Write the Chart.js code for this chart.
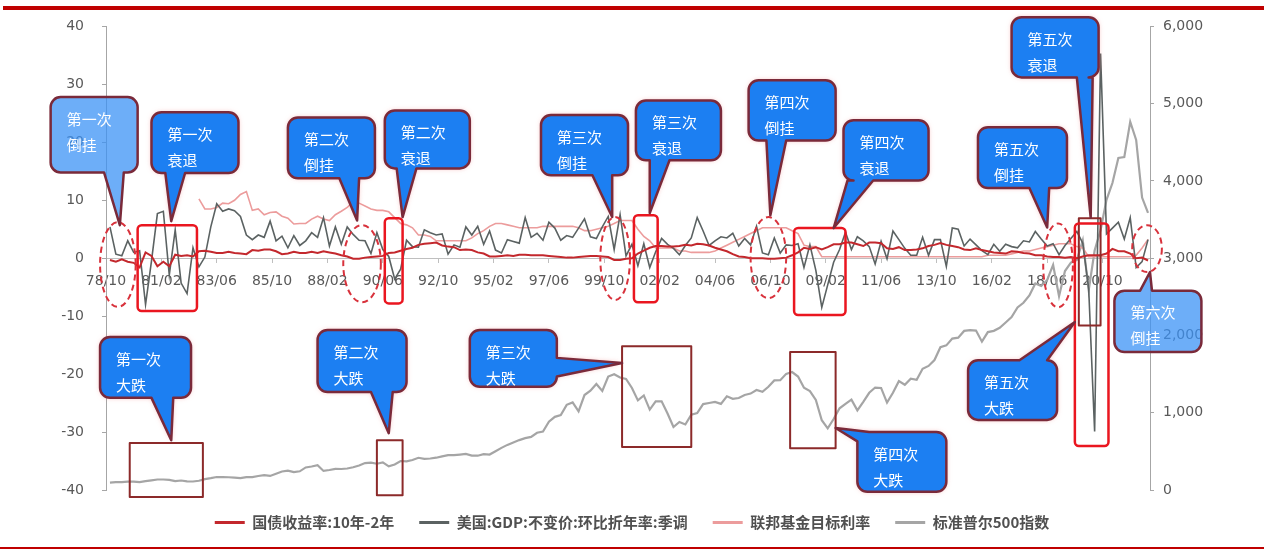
<!DOCTYPE html>
<html>
<head>
<meta charset="utf-8">
<script src="https://cdn.jsdelivr.net/npm/chart.js@4.4.1/dist/chart.umd.min.js"></script>
<style>
  html, body { margin: 0; padding: 0; background: #fff; }
  #wrap { position: relative; width: 1264px; height: 550px; overflow: hidden; background: #fff; }
  #wrap canvas { position: absolute; left: 0; top: 0; }
  .rule { position: absolute; background: #c00000; }
  #topRule { left: 3px; right: 0; top: 6px; height: 4px; }
  #bottomRule { left: 0; right: 0; top: 547px; height: 2px; }
</style>
</head>
<body>
<div id="wrap">
  <canvas id="chart" width="1264" height="550"></canvas>
  <div class="rule" id="topRule"></div>
  <div class="rule" id="bottomRule"></div>
</div>
<script>
// Time axis: month index 0 = 1978/10, one tick label every 28 months
const xTickLabels = ['78/10', '81/02', '83/06', '85/10', '88/02', '90/06', '92/10', '95/02', '97/06', '99/10',
  '02/02', '04/06', '06/10', '09/02', '11/06', '13/10', '16/02', '18/06', '20/10'];

// Quarterly series, 1978Q4 .. 2022Q3 (one row per year)
const termSpread = [ // 10Y - 2Y Treasury, %
  -0.3,
  -0.6, -0.2, -0.6, -0.8,   -1.6, 1.0, 0.4, -1.4,   -0.6, -1.4, 0.6, 0.4,   0.5, 0.3, 1.2, 1.3,
  1.1, 0.9, 0.9, 1.1,   0.9, 0.8, 0.7, 1.4,   1.3, 1.5, 1.5, 1.2,   0.7, 0.8, 1.1, 0.9,
  0.9, 1.1, 0.9, 1.2,   1.0, 0.8, 0.5, 0.3,   -0.1, -0.1, 0.1, 0.2,   0.3, 0.4, 0.9, 1.0,
  1.3, 1.6, 1.8, 2.3,   2.5, 2.6, 2.7, 2.2,   2.0, 1.9, 1.4, 1.5,   1.4, 1.0, 0.8, 0.3,
  0.3, 0.4, 0.5, 0.4,   0.6, 0.6, 0.5, 0.5,   0.5, 0.4, 0.3, 0.2,   0.1, 0.1, 0.2, 0.3,
  0.4, 0.4, 0.3, 0.2,   -0.3, -0.3, -0.1, 0.0,   0.8, 1.3, 1.8, 2.1,   2.1, 2.0, 2.0, 2.1,
  2.3, 2.2, 2.5, 2.4,   2.2, 1.8, 1.5, 1.2,   0.7, 0.3, 0.2, 0.0,   0.0, 0.0, -0.1, -0.1,
  0.0, 0.1, 0.5, 1.0,   1.8, 1.6, 1.9, 1.5,   1.9, 2.4, 2.4, 2.7,   2.7, 2.4, 2.1, 2.7,
  2.7, 2.6, 1.7, 1.6,   1.9, 1.4, 1.4, 1.5,   1.7, 2.1, 2.3, 2.6,   2.3, 2.1, 1.9, 1.5,
  1.4, 1.7, 1.4, 1.2,   1.0, 0.9, 0.8, 1.2,   1.1, 0.9, 0.8, 0.5,   0.5, 0.3, 0.2, 0.2,
  0.1, 0.2, 0.0, 0.3,   0.5, 0.5, 0.5, 0.8,   1.6, 1.2, 1.2, 0.8,
  0.0, 0.1, -0.4
];

const gdpGrowth = [ // real GDP, q/q annualised, SA, %
  5.4,
  0.7, 0.4, 3.0, 1.0,   1.3, -8.0, -0.5, 7.7,   8.1, -2.9, 4.9, -4.3,   -6.1, 1.8, -1.5, 0.2,
  5.4, 9.4, 8.1, 8.5,   8.2, 7.2, 4.0, 3.2,   4.0, 3.6, 6.4, 3.0,   3.8, 1.8, 3.9, 2.2,
  3.0, 4.4, 3.6, 7.0,   2.1, 5.4, 2.4, 5.4,   4.1, 3.1, 3.0, 0.8,   4.4, 1.5, 0.3, -3.6,
  -1.9, 3.1, 2.0, 1.9,   4.9, 4.4, 4.0, 4.2,   0.7, 2.3, 1.9, 5.4,   4.0, 5.5, 2.4, 4.7,
  1.4, 0.9, 3.2, 2.9,   2.6, 7.0, 3.6, 4.3,   3.1, 6.2, 5.2, 3.1,   3.9, 3.6, 5.2, 6.8,
  3.7, 3.4, 5.4, 7.2,   1.5, 7.5, 0.4, 2.4,   -1.3, 2.5, -1.6, 1.1,   3.4, 2.4, 1.7, 0.6,
  2.2, 3.5, 7.0, 4.7,   2.2, 3.0, 3.7, 3.5,   4.3, 2.1, 3.4, 2.3,   5.5, 0.9, 0.6, 3.5,
  0.9, 2.3, 2.2, 2.5,   -1.6, 2.3, -2.1, -8.5,   -4.6, -0.7, 1.5, 4.5,   1.5, 3.7, 3.0, 2.0,
  -1.0, 2.9, -0.1, 4.7,   3.2, 1.7, 0.5, 0.5,   3.6, 0.5, 3.2, 3.2,   -1.4, 5.2, 5.0, 2.1,
  3.3, 2.3, 1.3, 0.6,   2.4, 1.2, 2.4, 2.0,   1.8, 3.0, 2.8, 4.6,   3.3, 2.1, 2.5, 0.6,
  2.2, 3.4, 4.6, 2.6,   -5.3, -29.9, 35.3, 4.2,   5.2, 6.2, 3.3, 7.0,
  -1.6, -0.6, 3.2
];

const fedTarget = [ // federal funds target rate (upper bound), %, 1982Q3 .. 2022Q3
  10.25, 8.5,
  8.5, 8.75, 9.5, 9.4,   10.0, 11.0, 11.5, 8.25,   8.5, 7.5, 7.9, 8.0,   7.25, 6.9, 5.9, 6.0,
  6.0, 6.75, 7.25, 6.75,   6.5, 7.5, 8.1, 8.75,   9.75, 9.5, 9.0, 8.5,   8.25, 8.25, 8.0, 7.0,
  6.0, 5.75, 5.25, 4.0,   4.0, 3.75, 3.0, 3.0,   3.0, 3.0, 3.0, 3.0,   3.5, 4.25, 4.75, 5.5,
  6.0, 6.0, 5.75, 5.5,   5.25, 5.25, 5.25, 5.25,   5.5, 5.5, 5.5, 5.5,   5.5, 5.5, 5.25, 4.75,
  4.75, 5.0, 5.25, 5.5,   6.0, 6.5, 6.5, 6.5,   5.0, 3.75, 3.0, 1.75,   1.75, 1.75, 1.75, 1.25,
  1.25, 1.0, 1.0, 1.0,   1.0, 1.25, 1.75, 2.25,   2.75, 3.25, 3.75, 4.25,   4.75, 5.25, 5.25, 5.25,
  5.25, 5.25, 4.75, 4.25,   2.25, 2.0, 2.0, 0.25,   0.25, 0.25, 0.25, 0.25,   0.25, 0.25, 0.25, 0.25,
  0.25, 0.25, 0.25, 0.25,   0.25, 0.25, 0.25, 0.25,   0.25, 0.25, 0.25, 0.25,   0.25, 0.25, 0.25, 0.25,
  0.25, 0.25, 0.25, 0.5,   0.5, 0.5, 0.5, 0.75,   1.0, 1.25, 1.25, 1.5,   1.75, 2.0, 2.25, 2.5,
  2.5, 2.5, 2.0, 1.75,   0.25, 0.25, 0.25, 0.25,   0.25, 0.25, 0.25, 0.25,
  0.5, 1.75, 3.25
];

const sp500 = [ // S&P 500, quarter-end close
  96,
  102, 103, 109, 108,   102, 114, 125, 136,   136, 131, 116, 123,   112, 110, 120, 141,
  153, 168, 166, 165,   159, 153, 166, 167,   181, 192, 182, 211,   239, 251, 231, 242,
  292, 304, 322, 247,   259, 274, 272, 278,   295, 318, 349, 353,   340, 358, 306, 330,
  375, 371, 388, 417,   404, 408, 418, 436,   452, 451, 459, 467,   446, 444, 463, 459,
  501, 545, 584, 616,   646, 671, 687, 741,   757, 885, 947, 970,   1102, 1134, 1017, 1229,
  1286, 1373, 1283, 1469,   1499, 1455, 1437, 1320,   1160, 1224, 1041, 1148,   1147, 990, 815, 880,
  848, 975, 996, 1112,   1126, 1141, 1115, 1212,   1181, 1191, 1229, 1248,   1295, 1270, 1336, 1418,
  1421, 1503, 1527, 1468,   1323, 1280, 1166, 903,   798, 919, 1057, 1115,   1169, 1031, 1141, 1258,
  1326, 1321, 1131, 1258,   1409, 1362, 1441, 1426,   1569, 1606, 1682, 1848,   1872, 1960, 1972, 2059,
  2068, 2063, 1920, 2044,   2060, 2099, 2168, 2239,   2363, 2423, 2519, 2674,   2641, 2718, 2914, 2507,
  2834, 2942, 2977, 3231,   2585, 3100, 3363, 3756,   3973, 4298, 4308, 4766,
  4530, 3785, 3586
];

// Marked episodes, placed in axis units (month, left-axis value)
const inversionMarks = [ // dashed ellipses
  { from: '1978/07', to: '1980/01', top: 6.2, bottom: -8.4 },
  { from: '1988/10', to: '1990/05', top: 5.7, bottom: -7.6 },
  { from: '1999/08', to: '2000/11', top: 7.1, bottom: -7.2 },
  { from: '2005/12', to: '2007/06', top: 7.1, bottom: -6.9 },
  { from: '2018/04', to: '2019/07', top: 6.0, bottom: -8.5 },
  { from: '2022/01', to: '2023/04', top: 5.7, bottom: -2.4 }
];
const recessionMarks = [ // red boxes
  { from: '1980/02', to: '1982/08', top: 5.7, bottom: -9.1 },
  { from: '1990/07', to: '1991/04', top: 6.9, bottom: -7.8 },
  { from: '2001/01', to: '2002/01', top: 7.4, bottom: -7.6 },
  { from: '2007/10', to: '2009/12', top: 5.2, bottom: -9.8 },
  { from: '2019/08', to: '2021/01', top: 6.0, bottom: -32.4 }
];
const crashMarks = [ // dark boxes around the index drawdowns
  { from: '1979/10', to: '1982/11', top: -31.9, bottom: -41.2 },
  { from: '1990/03', to: '1991/04', top: -31.4, bottom: -40.9 },
  { from: '2000/07', to: '2003/06', top: -15.2, bottom: -32.6 },
  { from: '2007/08', to: '2009/07', top: -16.2, bottom: -32.8 },
  { from: '2019/10', to: '2020/09', top: 6.9, bottom: -11.6 }
];
const callouts = [
  { text: ['第一次', '倒挂'], from: '1976/06', to: '1980/02', top: 27.8, bottom: 14.8, light: true,
    tail: { side: 'bottom', a: '1978/09', b: '1979/07', tip: ['1979/05', 5.7] } },
  { text: ['第一次', '衰退'], from: '1980/09', to: '1984/05', top: 25.2, bottom: 14.7,
    tail: { side: 'bottom', a: '1981/04', b: '1982/02', tip: ['1981/07', 6.4] } },
  { text: ['第二次', '倒挂'], from: '1986/06', to: '1990/02', top: 24.3, bottom: 13.8,
    tail: { side: 'bottom', a: '1988/08', b: '1989/06', tip: ['1989/05', 6.5] } },
  { text: ['第二次', '衰退'], from: '1990/07', to: '1994/02', top: 25.5, bottom: 15.5,
    tail: { side: 'bottom', a: '1991/01', b: '1991/11', tip: ['1991/04', 7.1] } },
  { text: ['第三次', '倒挂'], from: '1997/02', to: '2000/10', top: 24.7, bottom: 14.3,
    tail: { side: 'bottom', a: '1999/04', b: '2000/02', tip: ['2000/02', 7.1] } },
  { text: ['第三次', '衰退'], from: '2001/02', to: '2004/09', top: 27.2, bottom: 16.9,
    tail: { side: 'bottom', a: '2001/09', b: '2002/07', tip: ['2001/09', 7.8] } },
  { text: ['第四次', '倒挂'], from: '2005/11', to: '2009/07', top: 30.7, bottom: 20.3,
    tail: { side: 'bottom', a: '2006/08', b: '2007/06', tip: ['2006/10', 7.4] } },
  { text: ['第四次', '衰退'], from: '2009/11', to: '2013/06', top: 23.8, bottom: 13.4,
    tail: { side: 'bottom', a: '2010/01', b: '2011/02', tip: ['2009/06', 5.2] } },
  { text: ['第五次', '倒挂'], from: '2015/07', to: '2019/04', top: 22.6, bottom: 12.1,
    tail: { side: 'bottom', a: '2017/09', b: '2018/07', tip: ['2018/06', 5.3] } },
  { text: ['第五次', '衰退'], from: '2016/12', to: '2020/08', top: 41.6, bottom: 31.2,
    tail: { side: 'bottom', a: '2019/09', b: '2020/05', tip: ['2020/04', 7.0] } },
  { text: ['第六次', '倒挂'], from: '2021/04', to: '2024/12', top: -5.6, bottom: -16.2, light: true,
    tail: { side: 'top', a: '2022/05', b: '2022/11', tip: ['2022/10', -2.4] } },
  { text: ['第一次', '大跌'], from: '1978/07', to: '1982/05', top: -13.6, bottom: -24.1,
    tail: { side: 'bottom', a: '1980/09', b: '1981/08', tip: ['1981/07', -31.4] } },
  { text: ['第二次', '大跌'], from: '1987/09', to: '1991/06', top: -12.4, bottom: -23.1,
    tail: { side: 'bottom', a: '1989/12', b: '1990/11', tip: ['1990/09', -30.2] } },
  { text: ['第三次', '大跌'], from: '1994/02', to: '1997/10', top: -12.4, bottom: -22.2,
    tail: { side: 'right', a: -17.2, b: -20.4, tip: ['2000/07', -18.1] } },
  { text: ['第四次', '大跌'], from: '2010/06', to: '2014/03', top: -30.0, bottom: -40.3,
    tail: { side: 'topleft', a: -31.6, b: '2010/12', tip: ['2009/07', -29.3] } },
  { text: ['第五次', '大跌'], from: '2015/02', to: '2018/11', top: -17.6, bottom: -27.9,
    tail: { side: 'top', a: '2017/04', b: '2018/06', tip: ['2019/08', -11.0] } }
];

function monthIndex(s) {
  const [yy, mm] = s.split('/').map(Number);
  return (yy - 1978) * 12 + (mm - 10);
}
// quarter-end points on the monthly axis
const quarterly = (firstQuarterEnd, values) =>
  values.map((v, i) => ({ x: monthIndex(firstQuarterEnd) + 3 * i, y: v }));

function roundRectPath(ctx, L, T, R, B, r) {
  ctx.beginPath();
  ctx.moveTo(L + r, T);
  ctx.arcTo(R, T, R, B, r);
  ctx.arcTo(R, B, L, B, r);
  ctx.arcTo(L, B, L, T, r);
  ctx.arcTo(L, T, R, T, r);
  ctx.closePath();
}

// Rounded box with a pointer; g holds pixel positions of the pointer base (p1, p2) and tip (tx, ty)
function calloutPath(ctx, L, T, R, B, r, g) {
  const lo = Math.min(g.p1, g.p2), hi = Math.max(g.p1, g.p2);
  ctx.beginPath();
  if (g.side === 'topleft') {
    ctx.moveTo(g.p2, T);
  } else {
    ctx.moveTo(L + r, T);
    if (g.side === 'top') { ctx.lineTo(lo, T); ctx.lineTo(g.tx, g.ty); ctx.lineTo(hi, T); }
  }
  ctx.arcTo(R, T, R, B, r);
  if (g.side === 'right') { ctx.lineTo(R, lo); ctx.lineTo(g.tx, g.ty); ctx.lineTo(R, hi); }
  ctx.arcTo(R, B, L, B, r);
  if (g.side === 'bottom') { ctx.lineTo(hi, B); ctx.lineTo(g.tx, g.ty); ctx.lineTo(lo, B); }
  ctx.arcTo(L, B, L, T, r);
  if (g.side === 'topleft') {
    ctx.lineTo(L, g.p1); ctx.lineTo(g.tx, g.ty);
    ctx.closePath();
    return;
  }
  ctx.arcTo(L, T, R, T, r);
  ctx.closePath();
}

const episodeMarkup = {
  id: 'episodeMarkup',
  afterDraw(chart) {
    const { ctx, scales: { x, y } } = chart;
    const X = d => x.getPixelForValue(monthIndex(d));
    const Y = v => y.getPixelForValue(v);
    ctx.save();
    ctx.lineJoin = 'round';

    ctx.strokeStyle = '#d8323c';
    ctx.lineWidth = 2;
    ctx.setLineDash([6, 4]);
    inversionMarks.forEach(e => {
      const L = X(e.from), R = X(e.to), T = Y(e.top), B = Y(e.bottom);
      ctx.beginPath();
      ctx.ellipse((L + R) / 2, (T + B) / 2, (R - L) / 2, (B - T) / 2, 0, 0, Math.PI * 2);
      ctx.stroke();
    });
    ctx.setLineDash([]);

    ctx.strokeStyle = '#8c2a2a';
    ctx.lineWidth = 2;
    crashMarks.forEach(b => {
      ctx.strokeRect(X(b.from), Y(b.top), X(b.to) - X(b.from), Y(b.bottom) - Y(b.top));
    });

    ctx.strokeStyle = '#ea1620';
    ctx.lineWidth = 2.5;
    recessionMarks.forEach(b => {
      roundRectPath(ctx, X(b.from), Y(b.top), X(b.to), Y(b.bottom), 4);
      ctx.stroke();
    });

    callouts.forEach(c => {
      const L = X(c.from), R = X(c.to), T = Y(c.top), B = Y(c.bottom);
      const t = c.tail;
      const g = {
        side: t.side,
        p1: (t.side === 'right' || t.side === 'topleft') ? Y(t.a) : X(t.a),
        p2: t.side === 'right' ? Y(t.b) : X(t.b),
        tx: X(t.tip[0]),
        ty: Y(t.tip[1])
      };
      calloutPath(ctx, L, T, R, B, 10, g);
      ctx.save();
      if (c.light) {
        ctx.fillStyle = 'rgba(58, 146, 246, 0.74)';
      } else {
        ctx.shadowColor = 'rgba(240, 120, 120, 0.55)';
        ctx.shadowBlur = 5;
        ctx.fillStyle = '#1c7ff2';
      }
      ctx.fill();
      ctx.restore();
      ctx.strokeStyle = '#7a2a3a';
      ctx.lineWidth = 2.5;
      ctx.stroke();

      ctx.fillStyle = '#ffffff';
      ctx.font = '15px "Noto Sans CJK SC", "Noto Sans", sans-serif';
      ctx.textAlign = 'left';
      ctx.textBaseline = 'middle';
      ctx.fillText(c.text[0], L + 16, T + 22);
      ctx.fillText(c.text[1], L + 16, T + 48);
    });
    ctx.restore();
  }
};

const tickFont = { family: '"DejaVu Sans", sans-serif', size: 14 };
const cjkFont = '"Noto Sans CJK SC", "Noto Sans", sans-serif';
const axisGray = '#a6a6a6';

new Chart(document.getElementById('chart'), {
  type: 'line',
  data: {
    datasets: [
      { label: '国债收益率:10年-2年', data: quarterly('1978/12', termSpread), yAxisID: 'y',
        borderColor: '#c3282d', backgroundColor: '#c3282d', borderWidth: 2 },
      { label: '美国:GDP:不变价:环比折年率:季调', data: quarterly('1978/12', gdpGrowth), yAxisID: 'y',
        borderColor: '#5b6262', backgroundColor: '#5b6262', borderWidth: 1.6 },
      { label: '联邦基金目标利率', data: quarterly('1982/09', fedTarget), yAxisID: 'y',
        borderColor: '#ec9c9c', backgroundColor: '#ec9c9c', borderWidth: 1.6 },
      { label: '标准普尔500指数', data: quarterly('1978/12', sp500), yAxisID: 'y1',
        borderColor: '#a5a5a5', backgroundColor: '#a5a5a5', borderWidth: 2.2 }
    ]
  },
  options: {
    responsive: false,
    animation: false,
    devicePixelRatio: 1,
    elements: { point: { radius: 0, hoverRadius: 0 }, line: { tension: 0 } },
    layout: { padding: { top: 26, left: 0, right: 0, bottom: 10 } },
    plugins: {
      tooltip: { enabled: false },
      legend: {
        position: 'bottom',
        labels: {
          usePointStyle: true,
          pointStyle: 'line',
          pointStyleWidth: 30,
          padding: 25,
          color: '#505050',
          font: { family: cjkFont, size: 15, weight: 'bold' },
          generateLabels(chart) {
            return Chart.defaults.plugins.legend.labels.generateLabels(chart)
              .map(item => Object.assign(item, { lineWidth: 3 }));
          }
        }
      }
    },
    scales: {
      x: {
        type: 'linear',
        position: { y: 0 },
        min: 0,
        max: 528,
        afterBuildTicks: s => { s.ticks = xTickLabels.map((_, i) => ({ value: i * 28 })); },
        ticks: {
          autoSkip: false, maxRotation: 0, padding: 11,
          color: '#595959', font: tickFont,
          callback: (v, i) => xTickLabels[i]
        },
        grid: { drawOnChartArea: false, tickLength: 4, color: '#bfbfbf' },
        border: { color: '#bfbfbf' }
      },
      y: {
        position: 'left',
        min: -40, max: 40,
        ticks: { stepSize: 10, padding: 18, color: '#595959', font: tickFont },
        grid: { drawOnChartArea: false, tickLength: 4, color: axisGray },
        border: { color: axisGray },
        afterFit: s => { s.width = 106; }
      },
      y1: {
        position: 'right',
        min: 0, max: 6000,
        ticks: { stepSize: 1000, padding: 9, color: '#595959', font: tickFont,
          callback: v => v.toLocaleString('en-US') },
        grid: { drawOnChartArea: false, tickLength: 4, color: axisGray },
        border: { color: axisGray },
        afterFit: s => { s.width = 114; }
      }
    }
  },
  plugins: [episodeMarkup]
});
</script>
</body>
</html>
